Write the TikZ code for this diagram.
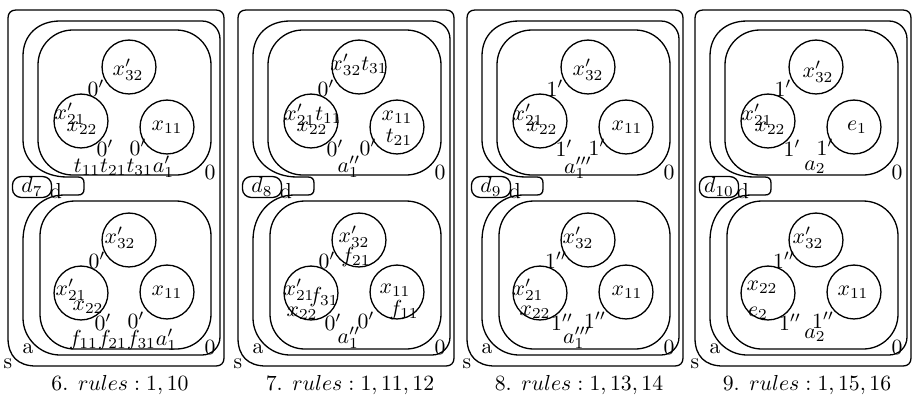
\documentclass[tikz,border=0pt]{standalone}
\usepackage{amsmath}
\usetikzlibrary{positioning}
\tikzset{
	memb/.style={line width=0.6pt},
	cell/.style={circle, draw, line width=0.6pt, minimum size=24.8pt, inner sep=0pt},
	lab/.style={inner sep=0pt},
	dbox/.style={draw, line width=0.6pt, rounded corners=4pt, minimum width=18pt, minimum height=9.6pt, inner sep=0.5pt},
}
\begin{document}
\begin{tikzpicture}[x=0.46pt, y=-0.46pt]
\useasboundingbox (0,0) rectangle (912,399);
% the four stages share the same membrane structure
\foreach \p/\ox/\dn/\nr/\rl/\ct/\cb in {1/8/7/6/{1,10}/{0'}/{0'}, 2/238/8/7/{1,11,12}/{0'}/{0'}, 3/467/9/8/{1,13,14}/{1'}/{1''}, 4/695/10/9/{1,15,16}/{1'}/{1''}} {
	\begin{scope}[shift={(\ox,0)}]
		% skin
		\draw[memb] (28,366) .. controls (10,366) and (0,356) .. (0,338) -- (0,18) .. controls (0,13) and (3,10) .. (8,10) -- (208,10) .. controls (213,10) and (216,13) .. (216,18) -- (216,358) .. controls (216,363) and (213,366) .. (208,366) -- cycle;
		% membrane with the neck at the left
		\draw[memb] (56,195) -- (70,195) .. controls (74,195) and (76,193) .. (76,189) -- (76,183) .. controls (76,179) and (74,177) .. (70,177) -- (59,177) .. controls (35,177) and (15,162) .. (15,140) -- (15,56) .. controls (15,35) and (30,21) .. (52,21) -- (194,21) .. controls (204,21) and (212,29) .. (212,39) -- (212,337) .. controls (212,347) and (204,355) .. (194,355) -- (52,355) .. controls (32,355) and (15,338) .. (15,318) -- (15,240) .. controls (15,215) and (32,195) .. (56,195) -- cycle;
		% inner membranes
		\draw[memb, rounded corners=16pt] (30,30) rectangle (203,175);
		\draw[memb, rounded corners=16pt] (32,201) rectangle (203,349);
		% cells
		\node[cell] (ut\p) at (121,67) {};
		\node[cell] (lt\p) at (73,121) {};
		\node[cell] (rt\p) at (159,127) {};
		\node[cell] (ub\p) at (121,240) {};
		\node[cell] (lb\p) at (73,293) {};
		\node[cell] (rb\p) at (159,292) {};
		% charges
		\node[lab] at (88,88) {$\ct$};
		\node[lab] at (97,148) {$\ct$};
		\node[lab] at (130,147) {$\ct$};
		\node[lab] at (89,260) {$\cb$};
		\node[lab] at (95,322) {$\cb$};
		\node[lab] at (128,320) {$\cb$};
		% labels
		\node[dbox] (d\p) at (24,187) {$d_{\dn}$};
		\node[lab] (dl\p) at (48,191) {d};
		\node[lab] (zt\p) at (202,172) {0};
		\node[lab] (zb\p) at (202,347) {0};
		\node[lab] (al\p) at (20,349) {a};
		\node[lab] (sl\p) at (0,364) {s};
		\node[lab] (cap\p) at (112,385) {\nr. $rules:\rl$};
	\end{scope}
}
% stage 6
\begin{scope}[shift={(8,0)}]
	\node[lab] at (120,70) {$x'_{32}$};
	\node[lab] at (62,114) {$x'_{21}$};
	\node[lab] at (74,128) {$x_{22}$};
	\node[lab] at (159,127) {$x_{11}$};
	\node[lab] at (116,167) {$t_{11}t_{21}t_{31}a'_1$};
	\node[lab] at (112,238) {$x'_{32}$};
	\node[lab] at (63,290) {$x'_{21}$};
	\node[lab] at (80,307) {$x_{22}$};
	\node[lab] at (159,292) {$x_{11}$};
	\node[lab] at (115,340) {$f_{11}f_{21}f_{31}a'_1$};
\end{scope}
% stage 7
\begin{scope}[shift={(238,0)}]
	\node[lab] at (121,65) {$x'_{32}t_{31}$};
	\node[lab] at (75,115) {$x'_{21}t_{11}$};
	\node[lab] at (74,128) {$x_{22}$};
	\node[lab] at (159,117) {$x_{11}$};
	\node[lab] at (161,137) {$t_{21}$};
	\node[lab] at (111,167) {$a''_1$};
	\node[lab] at (116,237) {$x'_{32}$};
	\node[lab] at (118,257) {$f_{21}$};
	\node[lab] at (61,290) {$x'_{21}$};
	\node[lab] at (86,297) {$f_{31}$};
	\node[lab] at (64,313) {$x_{22}$};
	\node[lab] at (157,290) {$x_{11}$};
	\node[lab] at (166,310) {$f_{11}$};
	\node[lab] at (111,338) {$a''_1$};
\end{scope}
% stage 8
\begin{scope}[shift={(467,0)}]
	\node[lab] at (121,70) {$x'_{32}$};
	\node[lab] at (61,115) {$x'_{21}$};
	\node[lab] at (75,128) {$x_{22}$};
	\node[lab] at (160,127) {$x_{11}$};
	\node[lab] at (111,168) {$a'''_1$};
	\node[lab] at (111,238) {$x'_{32}$};
	\node[lab] at (61,290) {$x'_{21}$};
	\node[lab] at (68,312) {$x_{22}$};
	\node[lab] at (160,292) {$x_{11}$};
	\node[lab] at (110,338) {$a'''_1$};
\end{scope}
% stage 9
\begin{scope}[shift={(695,0)}]
	\node[lab] at (123,72) {$x'_{32}$};
	\node[lab] at (62,115) {$x'_{21}$};
	\node[lab] at (75,128) {$x_{22}$};
	\node[lab] at (162,127) {$e_1$};
	\node[lab] at (120,167) {$a_2$};
	\node[lab] at (113,238) {$x'_{32}$};
	\node[lab] at (67,287) {$x_{22}$};
	\node[lab] at (63,313) {$e_2$};
	\node[lab] at (158,292) {$x_{11}$};
	\node[lab] at (120,335) {$a_2$};
\end{scope}
\end{tikzpicture}
\end{document}
